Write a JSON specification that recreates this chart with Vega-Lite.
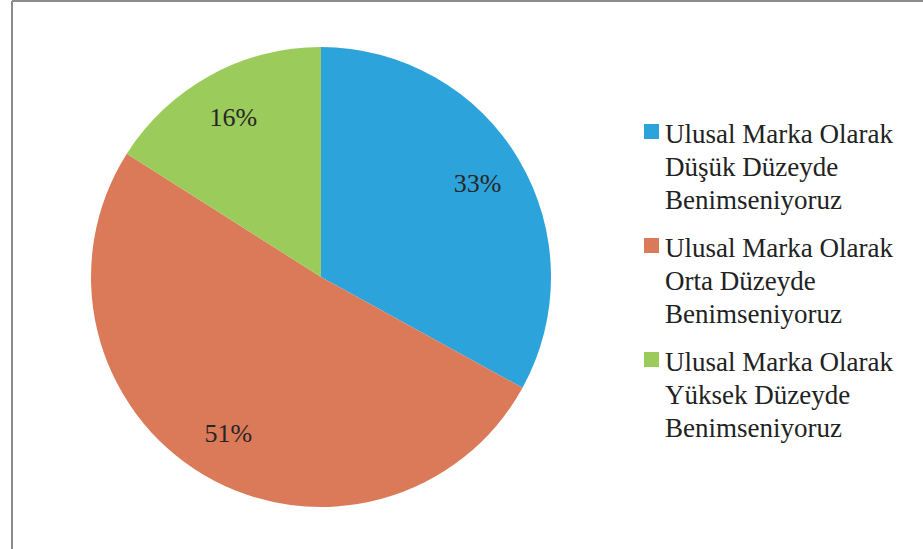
{
  "$schema": "https://vega.github.io/schema/vega-lite/v6.json",
  "width": 911,
  "height": 548,
  "autosize": {"type": "none"},
  "padding": {"left": 12, "top": 1, "right": 0, "bottom": 0},
  "background": "white",
  "config": {
    "view": {"stroke": "#8c8c8c", "strokeWidth": 2, "strokeDash": [911, 1459, 548, 0]},
    "font": "Liberation Serif",
    "style": {"guide-label": {"lineHeight": 33, "dy": 11}}
  },
  "data": {
    "values": [
      {"category": "Ulusal Marka Olarak|Düşük Düzeyde|Benimseniyoruz", "value": 33, "label": "33%", "order": 1},
      {"category": "Ulusal Marka Olarak|Orta Düzeyde|Benimseniyoruz", "value": 51, "label": "51%", "order": 2},
      {"category": "Ulusal Marka Olarak|Yüksek Düzeyde|Benimseniyoruz", "value": 16, "label": "16%", "order": 3}
    ]
  },
  "encoding": {
    "theta": {"field": "value", "type": "quantitative", "stack": true},
    "order": {"field": "order", "type": "quantitative"},
    "x": {"value": 309},
    "y": {"value": 276},
    "color": {
      "field": "category",
      "type": "nominal",
      "sort": null,
      "scale": {
        "domain": [
          "Ulusal Marka Olarak|Düşük Düzeyde|Benimseniyoruz",
          "Ulusal Marka Olarak|Orta Düzeyde|Benimseniyoruz",
          "Ulusal Marka Olarak|Yüksek Düzeyde|Benimseniyoruz"
        ],
        "range": ["#2ca3da", "#db7a58", "#9bcb5a"]
      },
      "legend": {
        "title": null,
        "orient": "none",
        "legendX": 626,
        "legendY": 117,
        "padding": 0,
        "symbolType": "square",
        "symbolSize": 225,
        "symbolStrokeWidth": 0,
        "symbolOpacity": 1,
        "labelFont": "Liberation Serif",
        "labelFontSize": 27,
        "labelColor": "#222222",
        "labelLimit": 400,
        "labelOffset": 0,
        "labelBaseline": "alphabetic",
        "labelExpr": "split(datum.label, '|')",
        "rowPadding": 18
      }
    }
  },
  "layer": [
    {"mark": {"type": "arc", "radius": 230, "stroke": null}},
    {
      "mark": {"type": "text", "radius": 182, "font": "Liberation Serif", "fontSize": 26, "color": "#262626"},
      "encoding": {
        "text": {"field": "label", "type": "nominal"},
        "color": {"value": "#262626"}
      }
    }
  ]
}
